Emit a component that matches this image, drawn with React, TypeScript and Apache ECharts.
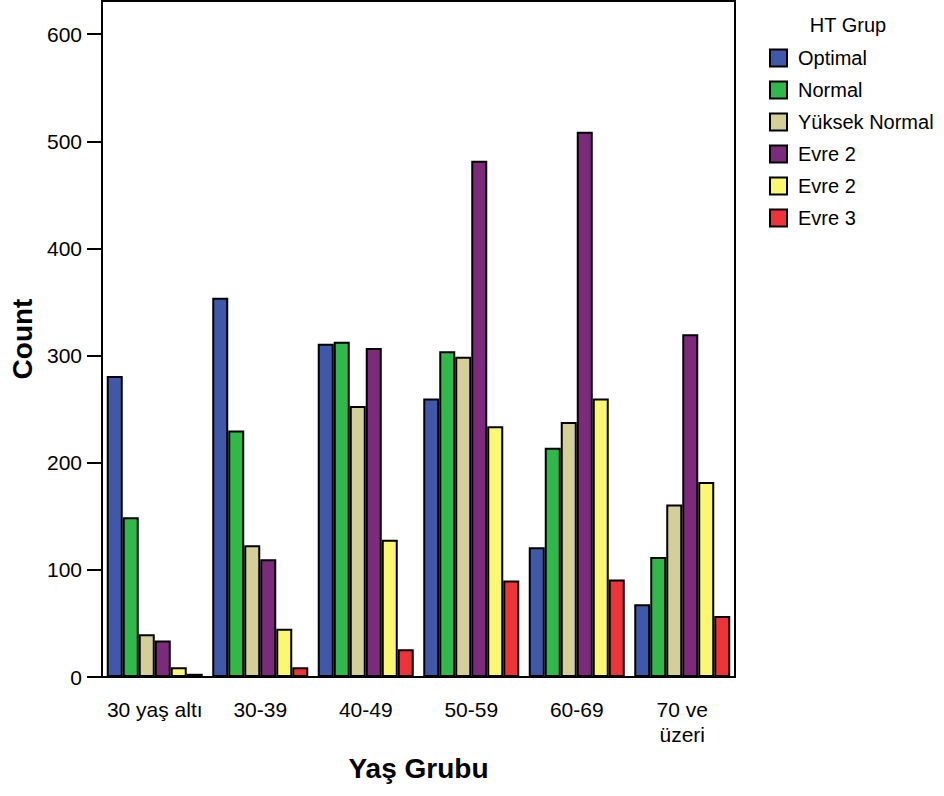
import React, { useEffect, useRef } from "react";
import * as echarts from "echarts";

const categories = ["30 yaş altı", "30-39", "40-49", "50-59", "60-69", "70 ve\nüzeri"];
const seriesLabels = ["Optimal", "Normal", "Yüksek Normal", "Evre 2", "Evre 2", "Evre 3"];
const seriesColors = ["#3F58A9", "#30B84A", "#D4CF98", "#7C2A7C", "#F9F870", "#EE3339"];
const optimal = [281, 354, 311, 260, 121, 68];
const normal = [149, 230, 313, 304, 214, 112];
const yuksekNormal = [40, 123, 253, 299, 238, 161];
const evre2a = [34, 110, 307, 482, 509, 320];
const evre2b = [9, 45, 128, 234, 260, 182];
const evre3 = [3, 9, 26, 90, 91, 57];
const yTicks = [0, 100, 200, 300, 400, 500, 600];

const FONT = "'Liberation Sans', Arial, Helvetica, sans-serif";

export default function App() {
  const ref = useRef<HTMLDivElement>(null);
  useEffect(() => {
    if (!ref.current) return;
    const chart = echarts.init(ref.current, undefined, { renderer: "svg" });
    const values = [optimal, normal, yuksekNormal, evre2a, evre2b, evre3];
    const series = values.map((v, i) => ({
      type: "bar",
      name: `s${i}`,
      data: v,
      barGap: "0%",
      barCategoryGap: "9%",
      itemStyle: { color: seriesColors[i], borderColor: "#000", borderWidth: 2 },
    }));
    chart.setOption({
      animation: false,
      textStyle: { fontFamily: FONT },
      title: {
        text: "HT Grup",
        left: 843,
        top: 10,
        textAlign: "center",
        textStyle: { fontFamily: FONT, fontSize: 20, fontWeight: "normal", color: "#000" },
      },
      legend: {
        orient: "vertical",
        left: 764,
        top: 43,
        itemWidth: 17,
        itemHeight: 17,
        itemGap: 12,
        icon: "rect",
        data: values.map((_, i) => `s${i}`),
        formatter: (n: string) => seriesLabels[Number(n.slice(1))],
        itemStyle: { borderColor: "#000", borderWidth: 2 },
        textStyle: { fontFamily: FONT, fontSize: 20, lineHeight: 20, color: "#000", padding: [0, 0, 0, 6] },
      },
      grid: {
        left: 102,
        right: 209,
        top: 1,
        bottom: 119,
        show: true,
        borderColor: "#000",
        borderWidth: 2,
      },
      xAxis: {
        type: "category",
        data: categories,
        name: "Yaş Grubu",
        nameLocation: "middle",
        nameGap: 77,
        nameTextStyle: { fontFamily: FONT, fontSize: 28, fontWeight: "bold", color: "#000" },
        axisLine: { lineStyle: { color: "#000", width: 2 } },
        axisTick: { alignWithLabel: true, length: 16, lineStyle: { color: "#000", width: 2 } },
        axisLabel: { fontFamily: FONT, fontSize: 21, color: "#000", margin: 20, lineHeight: 25, interval: 0 },
      },
      yAxis: {
        type: "value",
        min: 0,
        max: 631,
        name: "Count",
        nameLocation: "middle",
        nameGap: 62,
        nameTextStyle: { fontFamily: FONT, fontSize: 28, fontWeight: "bold", color: "#000" },
        axisLine: { show: true, lineStyle: { color: "#000", width: 2 } },
        axisTick: { show: true, length: 15, customValues: yTicks, lineStyle: { color: "#000", width: 2 } },
        axisLabel: { fontFamily: FONT, fontSize: 21, color: "#000", margin: 20, customValues: yTicks },
        splitLine: { show: false },
      },
      series,
    });
    return () => chart.dispose();
  }, []);
  return (
    <div
      ref={ref}
      style={{ position: "fixed", left: 0, top: 0, width: 944, height: 796, background: "#fff" }}
    />
  );
}
